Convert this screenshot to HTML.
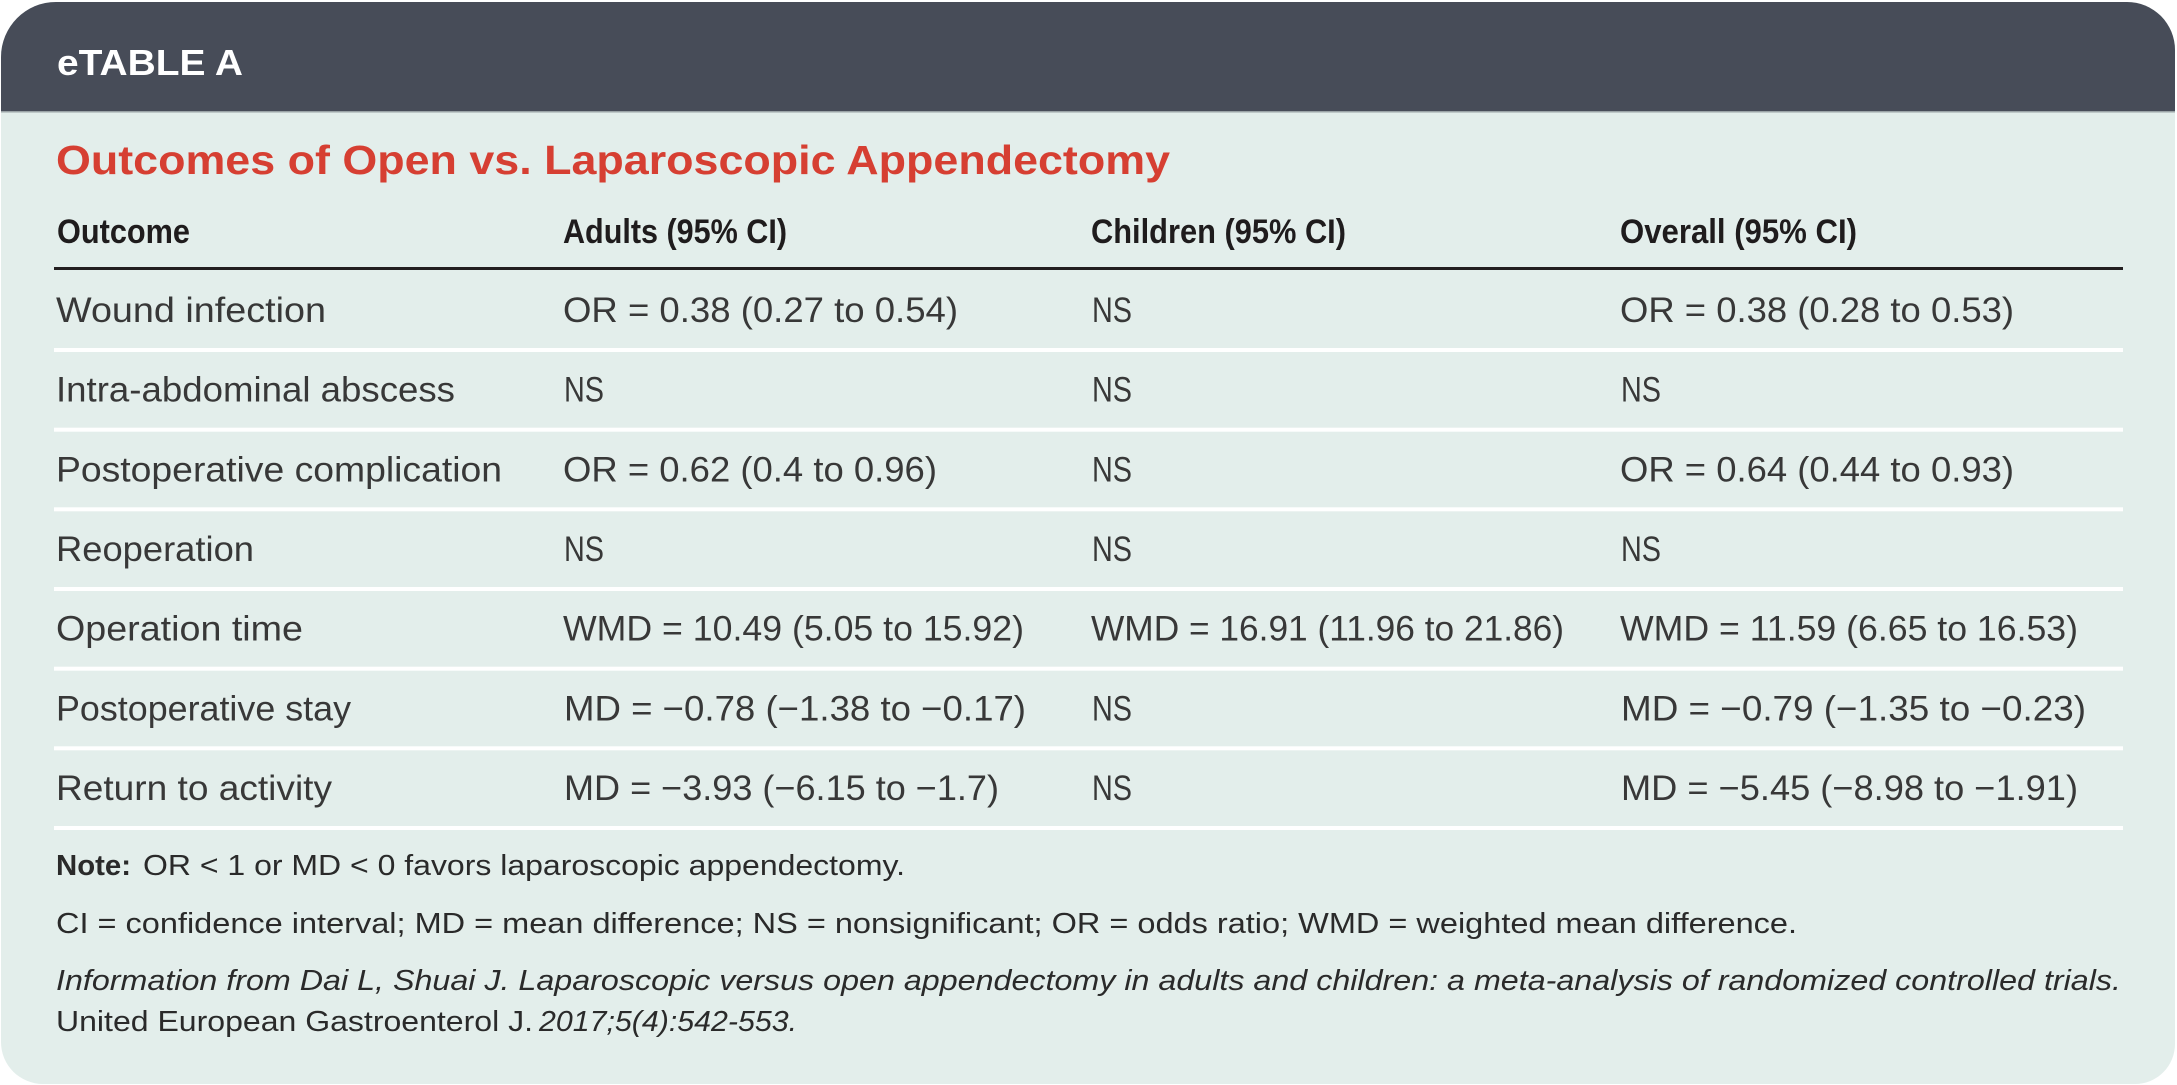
<!DOCTYPE html>
<html>
<head>
<meta charset="utf-8">
<style>
html,body{margin:0;padding:0;background:#ffffff;}
svg{display:block;}
text{font-family:"Liberation Sans",sans-serif;}
.b{font-size:35px;fill:#383838;}
.h{font-size:34px;font-weight:bold;fill:#1f1c1d;}
.n{font-size:29px;fill:#2a2a2a;}
</style>
</head>
<body>
<svg width="2177" height="1085" viewBox="0 0 2177 1085" xmlns="http://www.w3.org/2000/svg">
<defs>
<clipPath id="card">
<path d="M56,2 H2127 A48,48 0 0 1 2175,50 V1044 A40,40 0 0 1 2135,1084 H43 A42,42 0 0 1 1,1042 V57 A55,55 0 0 1 56,2 Z"/>
</clipPath>
</defs>
<g clip-path="url(#card)">
<rect x="0" y="0" width="2177" height="1085" fill="#e3eeeb"/>
<rect x="0" y="0" width="2177" height="112" fill="#474c58"/>
<rect x="0" y="111" width="2177" height="1.5" fill="#9aa3a6"/>
</g>

<text x="57" y="75" font-size="36" font-weight="bold" fill="#ffffff" textLength="186" lengthAdjust="spacingAndGlyphs">eTABLE A</text>

<text x="56" y="174" font-size="41" font-weight="bold" fill="#d63f32" textLength="1114" lengthAdjust="spacingAndGlyphs">Outcomes of Open vs. Laparoscopic Appendectomy</text>

<!-- header row -->
<text class="h" x="57" y="243" textLength="133" lengthAdjust="spacingAndGlyphs">Outcome</text>
<text class="h" x="563" y="243" textLength="224" lengthAdjust="spacingAndGlyphs">Adults (95% CI)</text>
<text class="h" x="1091" y="243" textLength="255" lengthAdjust="spacingAndGlyphs">Children (95% CI)</text>
<text class="h" x="1620" y="243" textLength="237" lengthAdjust="spacingAndGlyphs">Overall (95% CI)</text>
<rect x="54" y="267" width="2069" height="3" fill="#231f20"/>

<!-- row lines -->
<rect x="54" y="348" width="2069" height="4" fill="#ffffff"/>
<rect x="54" y="427.7" width="2069" height="4" fill="#ffffff"/>
<rect x="54" y="507.3" width="2069" height="4" fill="#ffffff"/>
<rect x="54" y="587" width="2069" height="4" fill="#ffffff"/>
<rect x="54" y="666.7" width="2069" height="4" fill="#ffffff"/>
<rect x="54" y="746.3" width="2069" height="4" fill="#ffffff"/>
<rect x="54" y="826" width="2069" height="4" fill="#ffffff"/>

<!-- row 1 -->
<text class="b" x="56" y="322" textLength="270" lengthAdjust="spacingAndGlyphs">Wound infection</text>
<text class="b" x="563" y="322" textLength="395" lengthAdjust="spacingAndGlyphs">OR = 0.38 (0.27 to 0.54)</text>
<text class="b" x="1092" y="322" textLength="40" lengthAdjust="spacingAndGlyphs">NS</text>
<text class="b" x="1620" y="322" textLength="394" lengthAdjust="spacingAndGlyphs">OR = 0.38 (0.28 to 0.53)</text>

<!-- row 2 -->
<text class="b" x="56" y="401.7" textLength="399" lengthAdjust="spacingAndGlyphs">Intra-abdominal abscess</text>
<text class="b" x="564" y="401.7" textLength="40" lengthAdjust="spacingAndGlyphs">NS</text>
<text class="b" x="1092" y="401.7" textLength="40" lengthAdjust="spacingAndGlyphs">NS</text>
<text class="b" x="1621" y="401.7" textLength="40" lengthAdjust="spacingAndGlyphs">NS</text>

<!-- row 3 -->
<text class="b" x="56" y="481.3" textLength="446" lengthAdjust="spacingAndGlyphs">Postoperative complication</text>
<text class="b" x="563" y="481.3" textLength="374" lengthAdjust="spacingAndGlyphs">OR = 0.62 (0.4 to 0.96)</text>
<text class="b" x="1092" y="481.3" textLength="40" lengthAdjust="spacingAndGlyphs">NS</text>
<text class="b" x="1620" y="481.3" textLength="394" lengthAdjust="spacingAndGlyphs">OR = 0.64 (0.44 to 0.93)</text>

<!-- row 4 -->
<text class="b" x="56" y="561" textLength="198" lengthAdjust="spacingAndGlyphs">Reoperation</text>
<text class="b" x="564" y="561" textLength="40" lengthAdjust="spacingAndGlyphs">NS</text>
<text class="b" x="1092" y="561" textLength="40" lengthAdjust="spacingAndGlyphs">NS</text>
<text class="b" x="1621" y="561" textLength="40" lengthAdjust="spacingAndGlyphs">NS</text>

<!-- row 5 -->
<text class="b" x="56" y="640.7" textLength="247" lengthAdjust="spacingAndGlyphs">Operation time</text>
<text class="b" x="563" y="640.7" textLength="461" lengthAdjust="spacingAndGlyphs">WMD = 10.49 (5.05 to 15.92)</text>
<text class="b" x="1091" y="640.7" textLength="473" lengthAdjust="spacingAndGlyphs">WMD = 16.91 (11.96 to 21.86)</text>
<text class="b" x="1620" y="640.7" textLength="458" lengthAdjust="spacingAndGlyphs">WMD = 11.59 (6.65 to 16.53)</text>

<!-- row 6 -->
<text class="b" x="564" y="720.3" textLength="462" lengthAdjust="spacingAndGlyphs">MD = −0.78 (−1.38 to −0.17)</text>
<text class="b" x="56" y="720.3" textLength="295" lengthAdjust="spacingAndGlyphs">Postoperative stay</text>
<text class="b" x="1092" y="720.3" textLength="40" lengthAdjust="spacingAndGlyphs">NS</text>
<text class="b" x="1621" y="720.3" textLength="465" lengthAdjust="spacingAndGlyphs">MD = −0.79 (−1.35 to −0.23)</text>

<!-- row 7 -->
<text class="b" x="56" y="800" textLength="276" lengthAdjust="spacingAndGlyphs">Return to activity</text>
<text class="b" x="564" y="800" textLength="435" lengthAdjust="spacingAndGlyphs">MD = −3.93 (−6.15 to −1.7)</text>
<text class="b" x="1092" y="800" textLength="40" lengthAdjust="spacingAndGlyphs">NS</text>
<text class="b" x="1621" y="800" textLength="457" lengthAdjust="spacingAndGlyphs">MD = −5.45 (−8.98 to −1.91)</text>

<!-- notes -->
<text class="n" x="56" y="875" font-weight="bold" fill="#1f1c1d" textLength="75" lengthAdjust="spacingAndGlyphs">Note:</text>
<text class="n" x="143" y="875" textLength="762" lengthAdjust="spacingAndGlyphs">OR &lt; 1 or MD &lt; 0 favors laparoscopic appendectomy.</text>
<text class="n" x="56" y="933" textLength="1741" lengthAdjust="spacingAndGlyphs">CI = confidence interval; MD = mean difference; NS = nonsignificant; OR = odds ratio; WMD = weighted mean difference.</text>
<text class="n" x="56" y="990" font-style="italic" textLength="2065" lengthAdjust="spacingAndGlyphs">Information from Dai L, Shuai J. Laparoscopic versus open appendectomy in adults and children: a meta-analysis of randomized controlled trials.</text>
<text class="n" x="56" y="1031" textLength="477" lengthAdjust="spacingAndGlyphs">United European Gastroenterol J.</text>
<text class="n" x="539" y="1031" font-style="italic" textLength="258" lengthAdjust="spacingAndGlyphs">2017;5(4):542-553.</text>
</svg>
</body>
</html>
